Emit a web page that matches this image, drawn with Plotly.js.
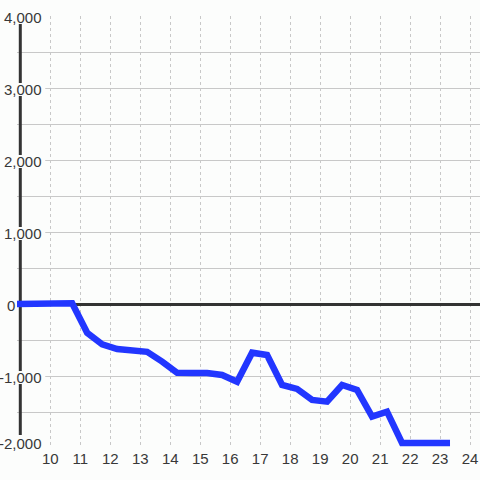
<!DOCTYPE html>
<html>
<head>
<meta charset="utf-8">
<script src="https://cdn.plot.ly/plotly-3.0.1.min.js"></script>
<style>
  html, body { margin: 0; padding: 0; background: #fcfdfc; }
  #chart { width: 480px; height: 480px; }
</style>
</head>
<body>
<div id="chart"></div>
<script>
// Data
const xValues = [8.73, 9.23, 9.73, 10.23, 10.73, 11.23, 11.73, 12.23, 12.73, 13.23, 13.73, 14.23, 14.73, 15.23, 15.73, 16.23, 16.73, 17.23, 17.73, 18.23, 18.73, 19.23, 19.73, 20.23, 20.73, 21.23, 21.73, 22.23, 22.73, 23.33];
const yValues = [0, 0, 0, 10, 10, -400, -560, -625, -640, -665, -800, -955, -958, -960, -985, -1080, -676, -708, -1125, -1180, -1333, -1357, -1125, -1194, -1565, -1496, -1930, -1930, -1930, -1930];
const xTickVals = [10, 11, 12, 13, 14, 15, 16, 17, 18, 19, 20, 21, 22, 23, 24];
const yTickVals = [4000, 3000, 2000, 1000, 0, -1000, -2000];
const yTickText = ["4,000", "3,000", "2,000", "1,000", "0", "-1,000", "-2,000"];

const BG = '#fcfdfc';
const TXT = '#383838';
const FONT = 'Liberation Sans, Arial, sans-serif';

const trace = {
  x: xValues,
  y: yValues,
  type: 'scatter',
  mode: 'lines',
  line: { color: '#2236ff', width: 6.5 },
  hoverinfo: 'skip'
};

// label background boxes and text (labels sit on the axis line)
const shapes = [
  { type: 'line', xref: 'x', yref: 'y', x0: 9, x1: 9, y0: -2000, y1: 4000,
    line: { color: '#333333', width: 3 }, layer: 'between' }
];
const annotations = [];
yTickVals.forEach((v, i) => {
  const isZero = v === 0;
  const isBottom = i === yTickVals.length - 1;
  shapes.push({
    type: 'rect', xref: 'paper', yref: 'y', ysizemode: 'pixel', yanchor: v,
    x0: isZero ? -0.03 : -0.037, x1: isZero ? 0.0 : 0.061,
    y0: isBottom ? -2 : -8, y1: isBottom ? 13 : 5,
    fillcolor: BG, line: { width: 0 }, layer: 'above'
  });
  annotations.push({
    xref: 'paper', yref: 'y', x: isZero ? -0.001 : 0.0575, y: v,
    xanchor: 'right', yanchor: 'middle', showarrow: false,
    text: yTickText[i], yshift: isBottom ? 5 : -1,
    font: { family: FONT, size: 15, color: TXT }
  });
});

const layout = {
  width: 480, height: 480,
  margin: { l: 17, r: 0, t: 16, b: 32 },
  paper_bgcolor: BG, plot_bgcolor: BG,
  showlegend: false,
  xaxis: {
    range: [8.89, 24.33],
    tickvals: xTickVals,
    ticktext: xTickVals.map(String),
    showgrid: true, gridcolor: '#c8c8c8', gridwidth: 1, griddash: 'dot',
    zeroline: false, showline: false, ticks: '',
    tickfont: { family: FONT, size: 15, color: TXT }
  },
  yaxis: {
    range: [-2000, 4000],
    dtick: 500, tick0: 0,
    showticklabels: false, ticks: '',
    showgrid: true, gridcolor: '#c8c8c8', gridwidth: 1,
    zeroline: true, zerolinecolor: '#333333', zerolinewidth: 3,
    showline: false
  },
  shapes: shapes,
  annotations: annotations
};

Plotly.newPlot('chart', [trace], layout, { staticPlot: true, displayModeBar: false });
</script>
</body>
</html>
